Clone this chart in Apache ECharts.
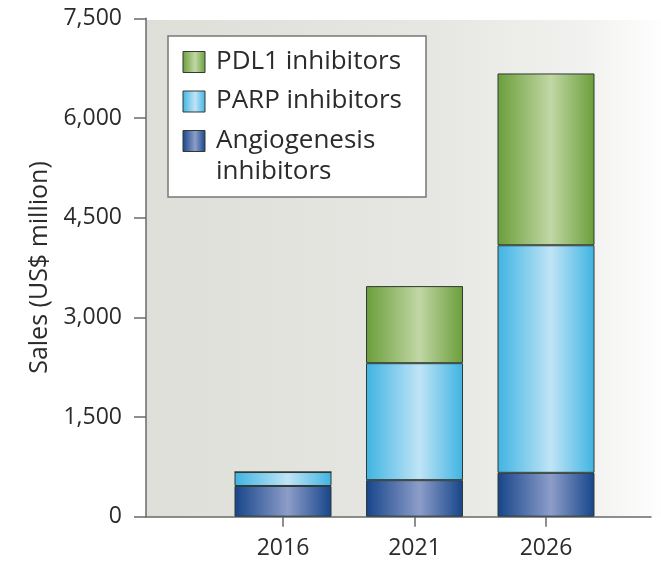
<!DOCTYPE html>
<html>
<head>
<meta charset="utf-8">
<script src="https://cdn.jsdelivr.net/npm/echarts@6/dist/echarts.min.js"></script>
<style>html,body{margin:0;padding:0;background:#fff}#c{width:661px;height:563px}</style>
</head>
<body>
<div id="c"></div>
<script>
const categories = ['2016', '2021', '2026'];
const seriesNames = ['Angiogenesis inhibitors', 'PARP inhibitors', 'PDL1 inhibitors'];
const angiogenesis = [462, 550, 660];
const parp = [210, 1760, 3425];
const pdl1 = [0, 1160, 2585];
const yTicks = [0, 1500, 3000, 4500, 6000, 7500];

const FONT = '"Open Sans"';
function grad(edge, mid) {
  return new echarts.graphic.LinearGradient(0, 0, 1, 0, [
    {offset: 0, color: edge}, {offset: 0.55, color: mid}, {offset: 1, color: edge}
  ]);
}
const colors = {
  'Angiogenesis inhibitors': ['#16458a', '#8d9dc9'],
  'PARP inhibitors': ['#3fb4e2', '#c0e4f6'],
  'PDL1 inhibitors': ['#6b9e3a', '#c1d7a5']
};
const values = {
  'Angiogenesis inhibitors': angiogenesis,
  'PARP inhibitors': parp,
  'PDL1 inhibitors': pdl1
};

const chart = echarts.init(document.getElementById('c'));
const series = seriesNames.map(name => ({
  name: name,
  type: 'bar',
  stack: 'total',
  barWidth: 97,
  xAxisIndex: 0, yAxisIndex: 0,
  data: values[name],
  itemStyle: {color: grad(colors[name][0], colors[name][1]), borderColor: '#2e3a33', borderWidth: 1},
  emphasis: {disabled: true}
}));

// legend drawn as graphic (multi-line label)
const legendOrder = ['PDL1 inhibitors', 'PARP inhibitors', 'Angiogenesis inhibitors'];
const legendLabels = {'PDL1 inhibitors': 'PDL1 inhibitors', 'PARP inhibitors': 'PARP inhibitors', 'Angiogenesis inhibitors': 'Angiogenesis\ninhibitors'};
const legendEls = [{
  type: 'rect', shape: {x: 168, y: 36, width: 258, height: 161},
  style: {fill: '#ffffff', stroke: '#777', lineWidth: 1.5}, z: 10
}];
legendOrder.forEach((n, i) => {
  const cy = 62 + i * 39.5;
  legendEls.push({
    type: 'rect', shape: {x: 183, y: cy - 10.5, width: 22, height: 21},
    style: {fill: new echarts.graphic.LinearGradient(0, 0, 1, 0, [
      {offset: 0, color: colors[n][0]}, {offset: 0.55, color: colors[n][1]}, {offset: 1, color: colors[n][0]}]),
      stroke: '#2e3a33', lineWidth: 1}, z: 11
  });
  legendEls.push({
    type: 'text', x: 216, y: cy - 16, z: 11,
    style: {text: legendLabels[n], font: '26px ' + FONT, fill: '#2b2b2b', lineHeight: 31, verticalAlign: 'top'}
  });
});

const axisColor = '#6a6a6a';
chart.setOption({
  animation: false,
  backgroundColor: '#ffffff',
  grid: [
    {left: 217.25, top: 18.3, width: 394.5, height: 498.4},
    {left: 146, top: 18.3, width: 505, height: 498.4}
  ],
  graphic: [{
    type: 'rect', z: -10, shape: {x: 146, y: 20, width: 515, height: 497},
    style: {fill: new echarts.graphic.LinearGradient(0, 0, 1, 0, [
      {offset: 0, color: '#dfdfda'}, {offset: 0.55, color: '#e6e6e2'}, {offset: 0.85, color: '#f1f1ef'}, {offset: 1, color: '#fefefe'}])}
  }].concat(legendEls),
  xAxis: [{
    gridIndex: 0, type: 'category', data: categories,
    axisLine: {show: false},
    axisTick: {show: true, alignWithLabel: true, length: 10, lineStyle: {color: axisColor, width: 1.5}},
    axisLabel: {margin: 20, fontFamily: FONT, fontSize: 23, color: '#2b2b2b'}
  }, {
    gridIndex: 1, type: 'value', min: 0, max: 1,
    splitLine: {show: false},
    axisLine: {show: true, lineStyle: {color: axisColor, width: 1.5}},
    axisTick: {show: false}, axisLabel: {show: false}
  }],
  yAxis: [{
    gridIndex: 0, type: 'value', min: 0, max: 7500, interval: 1500, show: false
  }, {
    gridIndex: 1, type: 'value', min: 0, max: 7500, interval: 1500,
    name: 'Sales (US$ million)', nameLocation: 'middle', nameGap: 94, nameRotate: 90,
    nameTextStyle: {fontFamily: FONT, fontSize: 25, color: '#2b2b2b'},
    splitLine: {show: false},
    axisLine: {show: true, onZero: false, lineStyle: {color: axisColor, width: 1.5}},
    axisTick: {show: true, length: 12, lineStyle: {color: axisColor, width: 1.5}},
    axisLabel: {formatter: v => yTicks.includes(v) ? v.toLocaleString('en-US') : '', margin: 24,
      fontFamily: FONT, fontSize: 23, color: '#2b2b2b'}
  }],
  series: series
});
</script>
</body>
</html>
